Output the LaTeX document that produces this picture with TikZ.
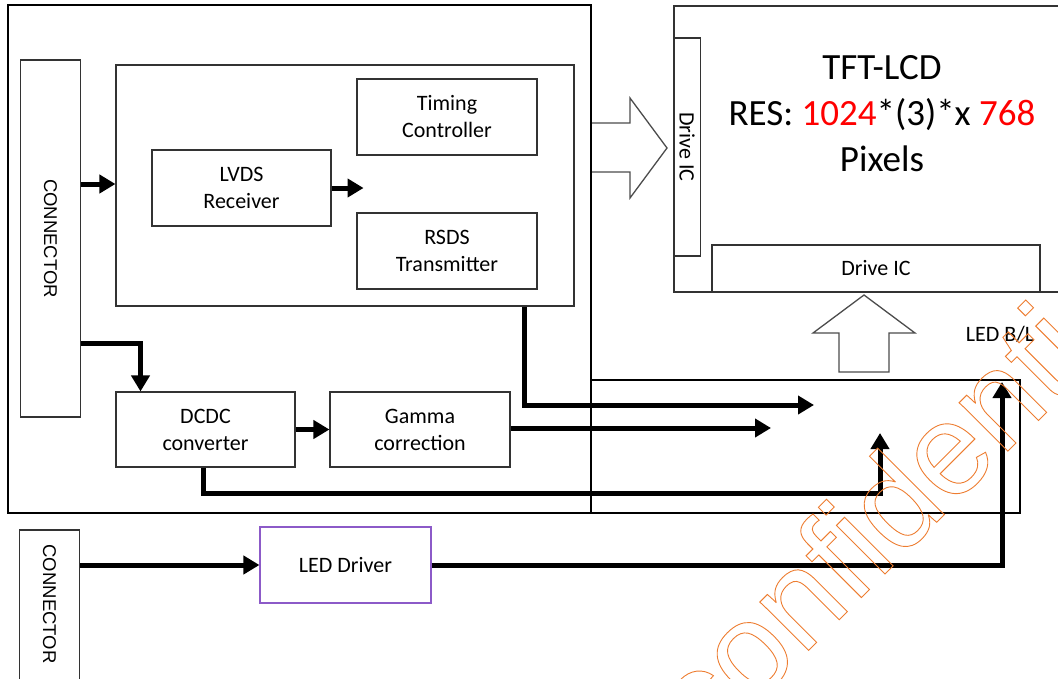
\documentclass[tikz,border=0pt]{standalone}
\usepackage{fontspec}
\setmainfont{Carlito}
\newfontfamily\connfont{Liberation Sans}
\usetikzlibrary{arrows.meta}

\definecolor{wmorange}{RGB}{237,125,49}
\definecolor{drvpurple}{RGB}{140,90,200}
\definecolor{resred}{RGB}{255,0,0}

% outlined text for the stamp
\newcommand{\strokedtext}[1]{\special{pdf:literal direct 1 Tr 0.9 w}#1\special{pdf:literal direct 0 Tr}}

\begin{document}
\begin{tikzpicture}[x=1pt,y=-1pt,
		blk/.style={draw=black!80,line width=1.1pt,inner sep=0pt,align=center,
			font=\fontsize{22}{27}\selectfont},
		conn/.style={draw=black!80,line width=1.1pt,inner sep=0pt,minimum width=60pt},
		connlabel/.style={rotate=-90,inner sep=0pt,font=\connfont\fontsize{18.5}{20}\selectfont},
		frame/.style={draw,line width=2.6pt},
		wire/.style={line width=5pt,-{Triangle[length=16pt,width=18pt]}},
		hollow/.style={draw=black!70,line width=1.3pt,line join=miter,fill=white}]
	\useasboundingbox (0,0) rectangle (1058,678);
	\clip (0,0) rectangle (1058,678);

	% panel side
	\node[blk,minimum width=400pt,minimum height=286pt] (tft) at (874,149) {};
	\node[blk,minimum width=218pt,minimum height=26.5pt,rotate=-90] (srcic) at (687.2,147) {Drive IC};
	\node[blk,minimum width=328pt,minimum height=47pt] (gateic) at (876,268.5) {Drive IC};
	\node[align=center,font=\fontsize{37}{46}\selectfont] (lcd) at (882,114) {TFT-LCD\\
		RES: \textcolor{resred}{1024}*(3)*x \textcolor{resred}{768}\\Pixels};

	% driver board
	\draw[frame] (8,5) rectangle (591,513);
	\draw[frame] (591,380) rectangle (1020,513);
	\node[font=\fontsize{22}{27}\selectfont,anchor=base] (bl) at (1000,341) {LED B/L};

	\node[conn,minimum height=357pt] (conn1) at (50.5,238.5) {};
	\node[connlabel] at (conn1) {CONNECTOR};
	\node[blk,minimum width=458pt,minimum height=241pt] (asic) at (345,185.5) {};
	\node[blk,minimum width=180pt,minimum height=76pt] (tcon) at (447,117) {Timing\\Controller};
	\node[blk,minimum width=179pt,minimum height=76pt] (lvds) at (241.5,188) {LVDS\\Receiver};
	\node[blk,minimum width=180pt,minimum height=76pt] (rsds) at (447,251) {RSDS\\Transmitter};
	\node[blk,minimum width=179pt,minimum height=75pt] (dcdc) at (205.5,429.5) {DCDC\\converter};
	\node[blk,minimum width=180pt,minimum height=75pt] (gamma) at (420,429.5) {Gamma\\correction};

	\node[conn,minimum height=160pt] (conn2) at (49.5,610) {};
	\node[connlabel] at (49.5,604) {CONNECTOR};
	\node[blk,draw=drvpurple,minimum width=171pt,minimum height=76pt] (leddrv) at (345.5,565) {LED Driver};

	% signal and power paths
	\coordinate (rsdsout) at (814,405);
	\coordinate (gammaout) at (771,428);
	\coordinate (pwrout) at (880,433);
	\coordinate (blin) at (1002,382);
	\draw[wire] (conn1.east |- 0,184) -- (asic.west |- 0,184);
	\draw[wire] (lvds.east) -- ++(32,0);
	\draw[wire] (conn1.east |- 0,343) -| ([xshift=-65pt]dcdc.north);
	\draw[wire] (dcdc.east) -- (gamma.west);
	\draw[wire] ([xshift=-50pt]asic.south east) |- (rsdsout);
	\draw[wire] (gamma.east |- gammaout) -- (gammaout);
	\draw[wire] ([xshift=-2pt]dcdc.south) |- (pwrout |- 0,493) -- (pwrout);
	\draw[wire] (conn2.east |- leddrv.west) -- (leddrv.west);
	\draw[wire] (leddrv.east) -| (blin);

	% data and backlight feed into the panel
	\draw[hollow] (592,123) -- (630,123) -- (630,98) -- (667,148) -- (630,198) -- (630,172) -- (592,172);
	\draw[hollow] (839,372) -- (839,333) -- (813,333) -- (864,295) -- (915,333) -- (889,333) -- (889,372) -- cycle;

	\node[rotate=45,anchor=base west,inner sep=0pt,text=wmorange,font=\connfont\fontsize{130}{130}\selectfont] (wm) at (705,754)
		{\strokedtext{confidential}};
\end{tikzpicture}
\end{document}
